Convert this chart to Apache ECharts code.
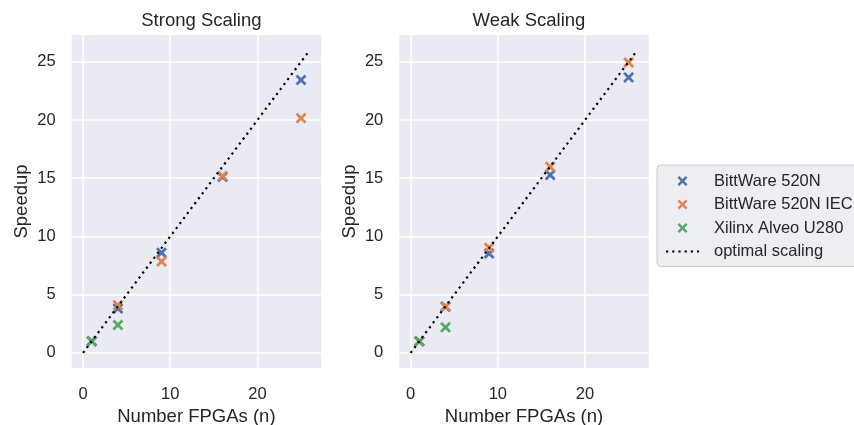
<!DOCTYPE html>
<html>
<head>
<meta charset="utf-8">
<script src="https://cdn.jsdelivr.net/npm/echarts@6/dist/echarts.min.js"></script>
<style>
  html, body { margin: 0; padding: 0; background: #ffffff; }
  #chart { width: 854px; height: 425px; }
</style>
</head>
<body>
<div id="chart"></div>
<script>
// ---- Data ----
const seriesNames = ['BittWare 520N', 'BittWare 520N IEC', 'Xilinx Alveo U280'];
const optimalName = 'optimal scaling';
const panelTitles = ['Strong Scaling', 'Weak Scaling'];
const xAxisTitle = 'Number FPGAs (n)';
const yAxisTitle = 'Speedup';

const fpgasBittware = [1, 4, 9, 16, 25];
const fpgasXilinx = [1, 4];

const strongBittware    = [1.0, 3.81, 8.59, 15.1, 23.44];
const strongBittwareIEC = [1.0, 4.10, 7.85, 15.2, 20.16];
const strongXilinx      = [1.0, 2.39];

const weakBittware      = [1.0, 3.95, 8.53, 15.27, 23.66];
const weakBittwareIEC   = [1.0, 4.00, 9.02, 15.98, 24.94];
const weakXilinx        = [1.0, 2.19];

const optimalX = [0, 26];
const optimalY = [0, 26];

// ---- Styling ----
const colors = ['#4C72B0', '#DD8452', '#55A868'];
const textColor = '#262626';
const fontFamily = '"Liberation Sans", Arial, "DejaVu Sans", sans-serif';
const xMarker = 'path://M1.8,0L5,3.2L8.2,0L10,1.8L6.8,5L10,8.2L8.2,10L5,6.8L1.8,10L0,8.2L3.2,5L0,1.8Z';

const zip = (xs, ys) => xs.map((x, i) => [x, ys[i]]);

const panels = [
  { left: 71.7, data: [strongBittware, strongBittwareIEC, strongXilinx], nameGap: 40 },
  { left: 399.3, data: [weakBittware, weakBittwareIEC, weakXilinx], nameGap: 40 }
];
const gridWidth = 249.4;
const gridTop = 35;
const gridHeight = 333;

const grids = [], xAxes = [], yAxes = [], series = [], titles = [];

panels.forEach((p, k) => {
  grids.push({
    left: p.left, top: gridTop, width: gridWidth, height: gridHeight,
    show: true, backgroundColor: '#EAEAF2', borderWidth: 0,
    containLabel: false, outerBoundsMode: 'none'
  });
  titles.push({
    text: panelTitles[k],
    left: p.left + gridWidth / 2,
    top: 6,
    textAlign: 'center',
    textStyle: { fontFamily, fontSize: 18.5, fontWeight: 'normal', color: textColor }
  });
  xAxes.push({
    type: 'value', gridIndex: k, min: -1.3, max: 27.3,
    splitNumber: 3, minInterval: 10, maxInterval: 10,
    name: xAxisTitle, nameLocation: 'middle', nameGap: 27,
    nameTextStyle: { fontFamily, fontSize: 18.5, color: textColor },
    axisLine: { show: false }, axisTick: { show: false },
    axisLabel: {
      fontFamily, fontSize: 16.5, color: textColor, margin: 18,
      showMinLabel: false, showMaxLabel: false,
      formatter: v => (Math.abs(v / 10 - Math.round(v / 10)) < 1e-9 ? String(Math.round(v)) : '')
    },
    splitLine: { show: true, showMinLine: false, showMaxLine: false, lineStyle: { color: '#ffffff', width: 1.5 } }
  });
  yAxes.push({
    type: 'value', gridIndex: k, min: -1.3, max: 27.3,
    splitNumber: 5, minInterval: 5, maxInterval: 5,
    name: yAxisTitle, nameLocation: 'middle', nameGap: p.nameGap, nameRotate: 90,
    nameTextStyle: { fontFamily, fontSize: 18.5, color: textColor },
    axisLine: { show: false }, axisTick: { show: false },
    axisLabel: {
      fontFamily, fontSize: 16.5, color: textColor, margin: 16,
      showMinLabel: false, showMaxLabel: false,
      formatter: v => (Math.abs(v / 5 - Math.round(v / 5)) < 1e-9 ? String(Math.round(v)) : '')
    },
    splitLine: { show: true, showMinLine: false, showMaxLine: false, lineStyle: { color: '#ffffff', width: 1.5 } }
  });

  const xsList = [fpgasBittware, fpgasBittware, fpgasXilinx];
  seriesNames.forEach((name, i) => {
    series.push({
      type: 'scatter', name, xAxisIndex: k, yAxisIndex: k,
      symbol: xMarker, symbolSize: 11,
      itemStyle: { color: colors[i], opacity: 1 },
      emphasis: { disabled: true },
      data: zip(xsList[i], p.data[i]),
      z: 2
    });
  });
  series.push({
    type: 'line', name: optimalName, xAxisIndex: k, yAxisIndex: k,
    symbol: 'none', showSymbol: false, silent: true,
    itemStyle: { color: 'rgba(0,0,0,0)' },
    lineStyle: { color: '#000000', width: 2.2, type: [2.2, 4], cap: 'butt' },
    data: zip(optimalX, optimalY),
    z: 3
  });
});

const chart = echarts.init(document.getElementById('chart'), null, { renderer: 'canvas' });
chart.setOption({
  animation: false,
  backgroundColor: '#ffffff',
  title: titles,
  grid: grids,
  xAxis: xAxes,
  yAxis: yAxes,
  legend: {
    orient: 'vertical',
    left: 657, top: 165,
    padding: [7.5, 12, 6.5, 8],
    itemWidth: 33, itemHeight: 10, itemGap: 6.5,
    symbolKeepAspect: true,
    backgroundColor: '#EDEDF4',
    borderColor: '#CCCCCC', borderWidth: 1, borderRadius: 4,
    textStyle: { fontFamily, fontSize: 16.5, color: textColor, padding: [0, 0, 0, 10] },
    data: seriesNames.map(n => ({ name: n, icon: xMarker })).concat([{
      name: optimalName,
      itemStyle: { color: 'rgba(0,0,0,0)', borderColor: 'rgba(0,0,0,0)', borderWidth: 0 }
    }])
  },
  series
});
</script>
</body>
</html>
